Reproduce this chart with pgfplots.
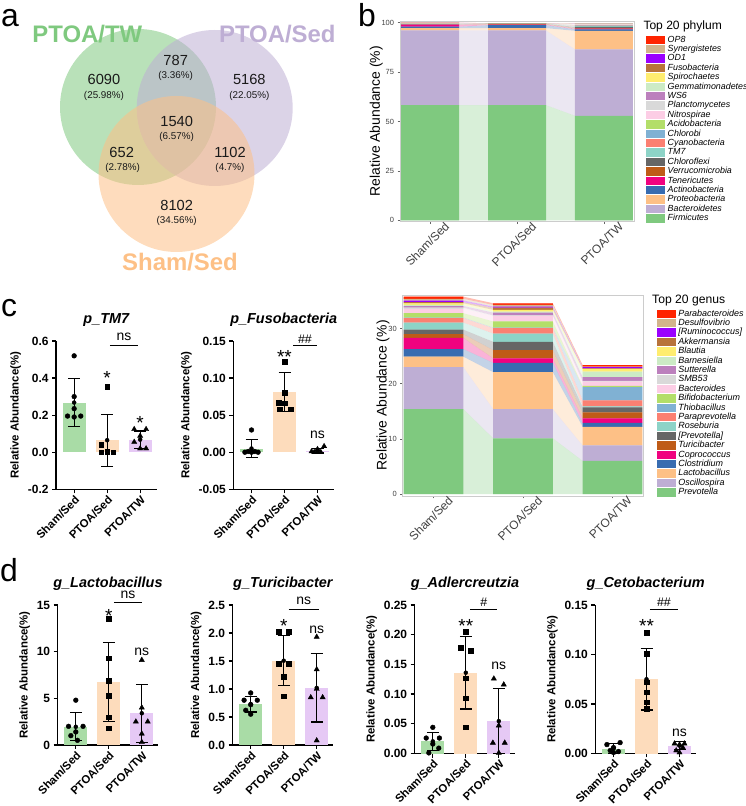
\documentclass[border=0pt]{standalone}
\usepackage{pgfplots}
\pgfplotsset{compat=1.18}
\usepackage{pgfplotstable}
\usepackage{fontspec}
\setmainfont{Liberation Sans}

\definecolor{c1}{HTML}{7FC97F}
\definecolor{c2}{HTML}{BEAED4}
\definecolor{c3}{HTML}{FDC086}
\definecolor{c4}{HTML}{386CB0}
\definecolor{c5}{HTML}{F0027F}
\definecolor{c6}{HTML}{BF5B17}
\definecolor{c7}{HTML}{666666}
\definecolor{c8}{HTML}{8DD3C7}
\definecolor{c9}{HTML}{FB8072}
\definecolor{c10}{HTML}{80B1D3}
\definecolor{c11}{HTML}{B3DE69}
\definecolor{c12}{HTML}{FCCDE5}
\definecolor{c13}{HTML}{D9D9D9}
\definecolor{c14}{HTML}{BC80BD}
\definecolor{c15}{HTML}{CCEBC5}
\definecolor{c16}{HTML}{FFED6F}
\definecolor{c17}{HTML}{B8733A}
\definecolor{c18}{HTML}{9A00FF}
\definecolor{c19}{HTML}{D2B48C}
\definecolor{c20}{HTML}{FF2400}
\definecolor{gG}{HTML}{A9DCA6}
\definecolor{gO}{HTML}{FDDCBC}
\definecolor{gP}{HTML}{E6C9F5}
\definecolor{numc}{HTML}{1A1A1A}

% phylum: s1 Firmicutes ... s20 OP8
\pgfplotstableread{
x s1 s2 s3 s4 s5 s6 s7 s8 s9 s10 s11 s12 s13 s14 s15 s16 s17 s18 s19 s20
1 58.3 37.8 1.2 0.7 1.0 0.1 0.1 0.2 0.05 0.05 0.05 0.2 0.05 0.05 0.02 0.02 0.01 0.02 0.02 0.02
2 58.3 37.8 1.2 1.5 0.3 0.3 0.05 0.1 0.05 0.02 0.02 0.05 0.02 0.01 0.01 0.01 0.06 0.01 0.01 0.01
3 52.9 33.6 9.4 0.8 0.3 0.3 0.6 0.4 0.3 0.2 0.1 0.3 0.2 0.1 0.05 0.05 0.01 0.02 0.02 0.02
}\phybar
\pgfplotstableread{
x s1 s2 s3 s4 s5 s6 s7 s8 s9 s10 s11 s12 s13 s14 s15 s16 s17 s18 s19 s20
0.6667 58.3 37.8 1.2 0.7 1.0 0.1 0.1 0.2 0.05 0.05 0.05 0.2 0.05 0.05 0.02 0.02 0.01 0.02 0.02 0.02
1.3333 58.3 37.8 1.2 0.7 1.0 0.1 0.1 0.2 0.05 0.05 0.05 0.2 0.05 0.05 0.02 0.02 0.01 0.02 0.02 0.02
1.6667 58.3 37.8 1.2 1.5 0.3 0.3 0.05 0.1 0.05 0.02 0.02 0.05 0.02 0.01 0.01 0.01 0.06 0.01 0.01 0.01
2.3333 58.3 37.8 1.2 1.5 0.3 0.3 0.05 0.1 0.05 0.02 0.02 0.05 0.02 0.01 0.01 0.01 0.06 0.01 0.01 0.01
2.6667 52.9 33.6 9.4 0.8 0.3 0.3 0.6 0.4 0.3 0.2 0.1 0.3 0.2 0.1 0.05 0.05 0.01 0.02 0.02 0.02
3.3333 52.9 33.6 9.4 0.8 0.3 0.3 0.6 0.4 0.3 0.2 0.1 0.3 0.2 0.1 0.05 0.05 0.01 0.02 0.02 0.02
}\phyflow
% genus: s1 Prevotella ... s20 Parabacteroides
\pgfplotstableread{
x s1 s2 s3 s4 s5 s6 s7 s8 s9 s10 s11 s12 s13 s14 s15 s16 s17 s18 s19 s20
1 15.4 7.6 1.9 1.4 2.0 0.7 0.8 1.3 0.8 0.1 0.8 0.8 0.2 0.3 0.2 0.3 0.2 0.3 0.3 0.4
2 10.1 5.3 6.7 1.7 0.8 1.5 1.5 1.5 1.0 0.1 1.1 1.0 0.1 0.5 0.2 0.3 0.4 0.2 0.3 0.3
3 6.0 2.8 3.4 0.7 0.8 1.1 0.9 0.2 1.1 2.4 0.2 0.8 0.1 0.7 1.0 0.5 0.1 0.2 0.1 0.3
}\genbar
\pgfplotstableread{
x s1 s2 s3 s4 s5 s6 s7 s8 s9 s10 s11 s12 s13 s14 s15 s16 s17 s18 s19 s20
0.6667 15.4 7.6 1.9 1.4 2.0 0.7 0.8 1.3 0.8 0.1 0.8 0.8 0.2 0.3 0.2 0.3 0.2 0.3 0.3 0.4
1.3333 15.4 7.6 1.9 1.4 2.0 0.7 0.8 1.3 0.8 0.1 0.8 0.8 0.2 0.3 0.2 0.3 0.2 0.3 0.3 0.4
1.6667 10.1 5.3 6.7 1.7 0.8 1.5 1.5 1.5 1.0 0.1 1.1 1.0 0.1 0.5 0.2 0.3 0.4 0.2 0.3 0.3
2.3333 10.1 5.3 6.7 1.7 0.8 1.5 1.5 1.5 1.0 0.1 1.1 1.0 0.1 0.5 0.2 0.3 0.4 0.2 0.3 0.3
2.6667 6.0 2.8 3.4 0.7 0.8 1.1 0.9 0.2 1.1 2.4 0.2 0.8 0.1 0.7 1.0 0.5 0.1 0.2 0.1 0.3
3.3333 6.0 2.8 3.4 0.7 0.8 1.1 0.9 0.2 1.1 2.4 0.2 0.8 0.1 0.7 1.0 0.5 0.1 0.2 0.1 0.3
}\genflow

\pgfplotsset{
 gp/.style={scale only axis, width=100.65bp, enlargelimits=false,
  axis lines=left, axis line style={-, line width=1.2bp, black},
  tick style={line width=1.2bp, black}, major tick length=4bp, tick align=outside, tick pos=left,
  xmin=-0.55, xmax=2.5, xtick={0,1,2}, xticklabels={Sham/Sed,PTOA/Sed,PTOA/TW},
  xticklabel style={rotate=45, anchor=north east, inner sep=1bp, font=\bfseries\fontsize{11.4}{12}\selectfont},
  yticklabel style={font=\bfseries\fontsize{12}{13}\selectfont},
  /pgf/number format/assume math mode=true,
  ylabel={Relative Abundance(\%)},
  ylabel style={font=\bfseries\fontsize{11.5}{12}\selectfont},
  every axis title/.style={at={(0.5,1)}, anchor=south, yshift=11bp, font=\bfseries\itshape\fontsize{14.5}{15}\selectfont},
  clip=false},
 gpbar/.style={ybar, bar width=0.69, bar shift=0pt, draw=none, fill=#1},
 gperr/.style={only marks, mark=none, error bars/.cd, y dir=both, y explicit,
   error bar style={line width=1.2bp, black},
   error mark options={rotate=90, mark size=6bp, line width=1.2bp, black}},
 gpc/.style={only marks, mark=*, mark size=2.4bp, black},
 gps/.style={only marks, mark=square*, mark size=2.3bp, black},
 gpt/.style={only marks, mark=triangle*, mark size=3bp, black},
 gg/.style={scale only axis, enlargelimits=false, xmin=0.655, xmax=3.345,
   xtick={1,2,3}, xticklabels={Sham/Sed,PTOA/Sed,PTOA/TW},
   axis line style={draw=black!20, line width=0.9bp},
   tick style={draw=black!60, line width=0.6bp}, major tick length=2.5bp, tick align=outside, tick pos=left,
   xticklabel style={shift={(14bp,4bp)}, rotate=45, anchor=north east, inner sep=0.5bp, font=\fontsize{12}{13}\selectfont, text=black!75},
   yticklabel style={font=\fontsize{7.5}{8}\selectfont, text=black!75},
   ylabel style={font=\fontsize{14}{15}\selectfont}, ylabel shift=-8bp,
   /pgf/number format/assume math mode=true},
 venn/.style={only marks, mark=*, mark size=78bp, draw opacity=0,
   mark options={draw=none, draw opacity=0, fill=#1, fill opacity=0.55}},
}
\tikzset{
 ns/.style={font=\fontsize{14}{14}\selectfont, inner sep=0pt},
 st/.style={font=\fontsize{19}{19}\selectfont, inner sep=0pt, yshift=-1.5bp},
 hs/.style={font=\fontsize{12.5}{13}\selectfont, inner sep=0pt},
 vn/.style={font=\fontsize{14.7}{15}\selectfont, text=numc},
 vp/.style={font=\fontsize{9.9}{10}\selectfont, text=numc},
 vt/.style={font=\bfseries\fontsize{24}{24}\selectfont},
 pl/.style={font=\fontsize{32}{32}\selectfont, anchor=base west, inner sep=0pt},
}

\begin{document}
\begin{tikzpicture}
\useasboundingbox (0,0) rectangle (746bp,806bp);

% ---------------- panel a : Venn
\begin{axis}[at={(0bp,516bp)}, anchor=south west, scale only axis, width=360bp, height=290bp,
  xmin=0, xmax=360, ymin=0, ymax=290, y dir=reverse, hide axis, clip=false, enlargelimits=false]
\addplot[venn=c1] coordinates {(138,107)};
\addplot[venn=c2] coordinates {(214.7,108)};
\addplot[venn=c3] coordinates {(176.5,174)};
\end{axis}
\node[vt, text=c1] at (87.3bp,771.7bp) {PTOA/TW};
\node[vt, text=c2] at (277.3bp,771.7bp) {PTOA/Sed};
\node[vt, text=c3] at (180bp,543.7bp) {Sham/Sed};
\node[vn] at (104bp,727bp) {6090};
\node[vp] at (104bp,710bp) {(25.98\%)};
\node[vn] at (175.7bp,746bp) {787};
\node[vp] at (175.7bp,730.3bp) {(3.36\%)};
\node[vn] at (249.3bp,726.7bp) {5168};
\node[vp] at (249.3bp,710bp) {(22.05\%)};
\node[vn] at (176.7bp,684.3bp) {1540};
\node[vp] at (176.7bp,668.7bp) {(6.57\%)};
\node[vn] at (121.7bp,653.3bp) {652};
\node[vp] at (122.7bp,637.7bp) {(2.78\%)};
\node[vn] at (230bp,653.3bp) {1102};
\node[vp] at (230bp,637.7bp) {(4.7\%)};
\node[vn] at (176.7bp,601bp) {8102};
\node[vp] at (176.7bp,585.3bp) {(34.56\%)};

% ---------------- panel b : phylum
\begin{axis}[gg, hide axis, at={(400bp,584.3bp)}, anchor=south west, width=234bp, height=200.7bp,
  ymin=-0.7, ymax=100.9, stack plots=y]
\pgfplotsinvokeforeach{1,...,20}{\addplot[draw=none, fill=c#1, fill opacity=0.3] table[x=x, y=s#1]{\phyflow} \closedcycle;}
\end{axis}
\begin{axis}[gg, at={(400bp,584.3bp)}, anchor=south west, width=234bp, height=200.7bp,
  ymin=-0.7, ymax=100.9, ytick={0,25,50,75,100}, ybar stacked, bar width=0.6667, axis on top,
  ylabel={Relative Abundance (\%)},
  legend style={at={(1.0385,0.94)}, anchor=north west, draw=none, fill=none,
    font=\itshape\fontsize{8.9}{9}\selectfont, row sep=0.1bp, column sep=2bp,
    nodes={inner sep=0.5bp, text height=6.4bp, text depth=1.9bp}},
  legend cell align=left, reverse legend,
  legend image code/.code={\fill[#1] (0bp,-4.2bp) rectangle (19bp,4.2bp);}]
\pgfplotsinvokeforeach{1,...,20}{\addplot[draw=none, fill=c#1] table[x=x, y=s#1]{\phybar};}
\legend{Firmicutes,Bacteroidetes,Proteobacteria,Actinobacteria,Tenericutes,Verrucomicrobia,Chloroflexi,TM7,Cyanobacteria,Chlorobi,Acidobacteria,Nitrospirae,Planctomycetes,WS6,Gemmatimonadetes,Spirochaetes,Fusobacteria,OD1,Synergistetes,OP8}
\end{axis}
\node[anchor=base west, inner sep=0pt, font=\fontsize{12.1}{13}\selectfont] at (643.3bp,776.7bp) {Top 20 phylum};

% ---------------- genus
\begin{axis}[gg, hide axis, at={(402.7bp,310bp)}, anchor=south west, width=240.6bp, height=201bp,
  ymin=-0.36, ymax=36.1, stack plots=y]
\pgfplotsinvokeforeach{1,...,20}{\addplot[draw=none, fill=c#1, fill opacity=0.3] table[x=x, y=s#1]{\genflow} \closedcycle;}
\end{axis}
\begin{axis}[gg, at={(402.7bp,310bp)}, anchor=south west, width=240.6bp, height=201bp,
  ymin=-0.36, ymax=36.1, ytick={0,10,20,30}, ybar stacked, bar width=0.6667, axis on top,
  ylabel={Relative Abundance (\%)},
  legend style={at={(1.0428,0.94)}, anchor=north west, draw=none, fill=none,
    font=\itshape\fontsize{9}{9}\selectfont, row sep=0.1bp, column sep=2bp,
    nodes={inner sep=0.5bp, text height=6.4bp, text depth=1.9bp}},
  legend cell align=left, reverse legend,
  legend image code/.code={\fill[#1] (0bp,-4.2bp) rectangle (19bp,4.2bp);}]
\pgfplotsinvokeforeach{1,...,20}{\addplot[draw=none, fill=c#1] table[x=x, y=s#1]{\genbar};}
\legend{Prevotella,Oscillospira,Lactobacillus,Clostridium,Coprococcus,Turicibacter,{\relax[Prevotella]},Roseburia,Paraprevotella,Thiobacillus,Bifidobacterium,Bacteroides,SMB53,Sutterella,Barnesiella,Blautia,Akkermansia,{\relax[Ruminococcus]},Desulfovibrio,Parabacteroides}
\end{axis}
\node[anchor=base west, inner sep=0pt, font=\fontsize{12.2}{13}\selectfont] at (652bp,502.7bp) {Top 20 genus};

% ---------------- panel c : p_TM7
\begin{axis}[gp, at={(56bp,316.7bp)}, anchor=south west, height=148.3bp,
  ymin=-0.2, ymax=0.6, ytick={-0.2,0,0.2,0.4,0.6},
  yticklabel style={/pgf/number format/.cd, fixed, fixed zerofill, precision=1},
  title={p\_TM7}]
\addplot[gpbar=gG] coordinates {(0,0.268)};
\addplot[gpbar=gO] coordinates {(1,0.065)};
\addplot[gpbar=gP] coordinates {(2,0.068)};
\addplot[gperr] coordinates {(0,0.268) +- (0,0.131) (1,0.065) +- (0,0.14) (2,0.068) +- (0,0.047)};
\addplot[gpc] coordinates {(0,0.52) (0,0.30) (0,0.235) (-0.2,0.195) (0.2,0.195) (0,0.19)};
\addplot[gps] coordinates {(1,0.352) (0.82,0.04) (0.82,0.0) (1,0.0) (1.18,0.0) (1,0.005)};
\addplot[gpt] coordinates {(1.82,0.124) (2.18,0.124) (2,0.088) (1.82,0.055) (2,0.02) (2.18,0.02)};
\node[st] at (axis cs:1,0.41) {*};
\node[st] at (axis cs:2,0.165) {*};
\draw[line width=1.2bp] (axis cs:1.08,0.577) -- (axis cs:1.94,0.577);
\node[ns] at (axis cs:1.51,0.625) {ns};
\end{axis}

% ---------------- panel c : p_Fusobacteria
\begin{axis}[gp, at={(233.35bp,316.7bp)}, anchor=south west, height=148.3bp,
  ymin=-0.05, ymax=0.15, ytick={-0.05,0,0.05,0.1,0.15},
  yticklabel style={/pgf/number format/.cd, fixed, fixed zerofill, precision=2},
  title={p\_Fusobacteria}]
\addplot[gpbar=gG] coordinates {(0,0.005)};
\addplot[gpbar=gO] coordinates {(1,0.081)};
\addplot[gpbar=gP] coordinates {(2,0.002)};
\addplot[gperr] coordinates {(0,0.005) +- (0,0.012) (1,0.081) +- (0,0.026) (2,0.002) +- (0,0.003)};
\addplot[gpc] coordinates {(0,0.03) (-0.2,0) (0,0) (0.2,0) (-0.1,0.001) (0.1,0.001)};
\addplot[gps] coordinates {(1,0.122) (1,0.080) (0.82,0.067) (1,0.066) (0.85,0.058) (1.18,0.058)};
\addplot[gpt] coordinates {(2.2,0.008) (2,0.004) (1.82,0.001) (1.9,0) (2.1,0) (2,0)};
\node[st] at (axis cs:1,0.131) {**};
\draw[line width=1.2bp] (axis cs:1.27,0.144) -- (axis cs:1.98,0.144);
\node[hs] at (axis cs:1.62,0.153) {\#\#};
\node[ns] at (axis cs:2,0.023) {ns};
\end{axis}

% ---------------- panel d : Lactobacillus
\begin{axis}[gp, at={(57.65bp,61bp)}, anchor=south west, height=140bp,
  ymin=0, ymax=15, ytick={0,5,10,15}, title={g\_Lactobacillus}]
\addplot[gpbar=gG] coordinates {(0,1.95)};
\addplot[gpbar=gO] coordinates {(1,6.75)};
\addplot[gpbar=gP] coordinates {(2,3.4)};
\addplot[gperr] coordinates {(0,1.95) +- (0,1.5) (1,6.75) +- (0,4.25) (2,3.4) +- (0,3.1)};
\addplot[gpc] coordinates {(0,4.8) (-0.22,2.0) (0.22,2.0) (0,1.4) (-0.15,1.0) (0.05,0.5)};
\addplot[gps] coordinates {(1,13.5) (1,9.3) (1,6.9) (1,5.3) (1,3.0) (1,1.8)};
\addplot[gpt] coordinates {(2,9.1) (2,4.0) (1.82,2.5) (2.18,2.5) (2,1.2) (2,0.3)};
\node[st] at (axis cs:1,14.0) {*};
\draw[line width=1.2bp] (axis cs:1.15,15.25) -- (axis cs:2.01,15.25);
\node[ns] at (axis cs:1.58,16.1) {ns};
\node[ns] at (axis cs:2,10.0) {ns};
\end{axis}

% ---------------- panel d : Turicibacter
\begin{axis}[gp, at={(232.55bp,61bp)}, anchor=south west, height=140bp,
  ymin=0, ymax=2.5, ytick={0,0.5,1,1.5,2,2.5},
  yticklabel style={/pgf/number format/.cd, fixed, fixed zerofill, precision=1},
  title={g\_Turicibacter}]
\addplot[gpbar=gG] coordinates {(0,0.73)};
\addplot[gpbar=gO] coordinates {(1,1.505)};
\addplot[gpbar=gP] coordinates {(2,1.02)};
\addplot[gperr] coordinates {(0,0.73) +- (0,0.14) (1,1.505) +- (0,0.445) (2,1.02) +- (0,0.61)};
\addplot[gpc] coordinates {(0,0.93) (-0.2,0.80) (0.2,0.80) (0,0.72) (-0.15,0.62) (0,0.55)};
\addplot[gps] coordinates {(0.85,2.02) (1.15,2.02) (0.85,1.45) (1.15,1.45) (1,1.22) (1,0.87)};
\addplot[gpt] coordinates {(2,1.93) (2,1.35) (2,1.0) (1.82,0.85) (2.18,0.85) (2,0.08)};
\node[st] at (axis cs:1,2.15) {*};
\draw[line width=1.2bp] (axis cs:1.15,2.42) -- (axis cs:2.07,2.42);
\node[ns] at (axis cs:1.61,2.57) {ns};
\node[ns] at (axis cs:2,2.05) {ns};
\end{axis}

% ---------------- panel d : Adlercreutzia
\begin{axis}[gp, at={(414.65bp,52.5bp)}, anchor=south west, height=148.5bp,
  ymin=0, ymax=0.25, ytick={0,0.05,0.1,0.15,0.2,0.25},
  yticklabel style={/pgf/number format/.cd, fixed, fixed zerofill, precision=2},
  title={g\_Adlercreutzia}]
\addplot[gpbar=gG] coordinates {(0,0.0205)};
\addplot[gpbar=gO] coordinates {(1,0.136)};
\addplot[gpbar=gP] coordinates {(2,0.0545)};
\addplot[gperr] coordinates {(0,0.0205) +- (0,0.0155) (1,0.136) +- (0,0.061) (2,0.0545) +- (0,0.0545)};
\addplot[gpc] coordinates {(0,0.044) (-0.2,0.026) (0.2,0.026) (0,0.016) (0.18,0.009) (-0.12,0.001)};
\addplot[gps] coordinates {(1,0.205) (0.85,0.178) (1.15,0.173) (1,0.127) (1,0.093) (1,0.044)};
\addplot[gpt] coordinates {(1.85,0.126) (2.15,0.116) (2,0.047) (1.82,0.018) (2.18,0.018) (2,0.001)};
\node[st] at (axis cs:1,0.217) {**};
\draw[line width=1.2bp] (axis cs:1.12,0.243) -- (axis cs:1.95,0.243);
\node[hs] at (axis cs:1.55,0.254) {\#};
\node[ns] at (axis cs:2,0.147) {ns};
\end{axis}

% ---------------- panel d : Cetobacterium
\begin{axis}[gp, at={(595.35bp,52.5bp)}, anchor=south west, height=148.5bp,
  ymin=0, ymax=0.15, ytick={0,0.05,0.1,0.15},
  yticklabel style={/pgf/number format/.cd, fixed, fixed zerofill, precision=2},
  title={g\_Cetobacterium}]
\addplot[gpbar=gG] coordinates {(0,0.005)};
\addplot[gpbar=gO] coordinates {(1,0.075)};
\addplot[gpbar=gP] coordinates {(2,0.008)};
\addplot[gperr] coordinates {(0,0.005) +- (0,0.005) (1,0.075) +- (0,0.031) (2,0.008) +- (0,0.004)};
\addplot[gpc] coordinates {(0.2,0.011) (-0.2,0.009) (0,0.006) (-0.1,0.003) (0.15,0.002) (0,0.001)};
\addplot[gps] coordinates {(1,0.122) (1,0.101) (1,0.072) (1,0.062) (1,0.052) (1,0.045)};
\addplot[gpt] coordinates {(1.85,0.010) (2.15,0.010) (2,0.009) (2.1,0.006) (1.9,0.003) (2,0.001)};
\node[st] at (axis cs:1,0.130) {**};
\draw[line width=1.2bp] (axis cs:1.1,0.1457) -- (axis cs:1.95,0.1457);
\node[hs] at (axis cs:1.53,0.1527) {\#\#};
\node[ns] at (axis cs:2,0.021) {ns};
\end{axis}

% panel letters
\node[pl] at (1bp,779bp) {a};
\node[pl] at (358bp,779bp) {b};
\node[pl] at (1bp,489.3bp) {c};
\node[pl] at (0bp,224.3bp) {d};
\end{tikzpicture}
\end{document}
